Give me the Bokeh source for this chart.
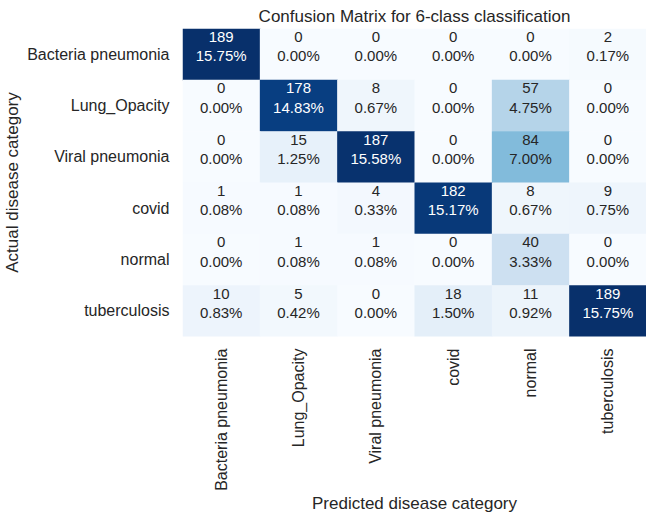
import math
from bokeh.plotting import figure
from bokeh.models import ColumnDataSource, LinearColorMapper, FactorRange
from bokeh.palettes import Blues256
from bokeh.transform import transform
from bokeh.core.properties import value
from bokeh.embed import file_html
from bokeh.resources import INLINE

classes = ["Bacteria pneumonia", "Lung_Opacity", "Viral pneumonia", "covid", "normal", "tuberculosis"]
# rows = actual, columns = predicted
row_bacteria = [189, 0, 0, 0, 0, 2]
row_lung = [0, 178, 8, 0, 57, 0]
row_viral = [0, 15, 187, 0, 84, 0]
row_covid = [1, 1, 4, 182, 8, 9]
row_normal = [0, 1, 1, 0, 40, 0]
row_tb = [10, 5, 0, 18, 11, 189]
matrix = [row_bacteria, row_lung, row_viral, row_covid, row_normal, row_tb]
total = sum(sum(r) for r in matrix)

xs, ys, vals, labels, tcolors = [], [], [], [], []
for i, actual in enumerate(classes):
    for j, pred in enumerate(classes):
        v = matrix[i][j]
        xs.append(pred)
        ys.append(actual)
        vals.append(v)
        labels.append(f"{v}\n{v / total * 100:.2f}%")
        tcolors.append("#ffffff" if v > 120 else "#262626")

src = ColumnDataSource(dict(x=xs, y=ys, v=vals, label=labels, tc=tcolors))
mapper = LinearColorMapper(palette=list(reversed(Blues256)), low=0, high=max(vals))

FONT = "Liberation Sans"
p = figure(width=646, height=515, output_backend="svg", toolbar_location=None,
           x_range=FactorRange(*classes), y_range=FactorRange(*reversed(classes)),
           title="Confusion Matrix for 6-class classification",
           min_border_left=177, min_border_right=0, min_border_top=28, min_border_bottom=0)
p.rect(x="x", y="y", width=1, height=1, source=src, fill_color=transform("v", mapper),
       line_color=None, dilate=True)
p.text(x="x", y="y", text="label", source=src, text_color="tc", text_align="center",
       text_baseline="middle", y_offset=-8, text_font=value(FONT), text_font_size="15px",
       text_line_height=1.15)

p.title.align = "center"
p.title.text_font = FONT
p.title.text_font_size = "17px"
p.title.text_font_style = "normal"
p.title.text_color = "#262626"
p.title.standoff = 6

for ax in (p.xaxis, p.yaxis):
    ax.axis_line_color = None
    ax.major_tick_line_color = None
    ax.minor_tick_line_color = None
    ax.major_label_text_font = FONT
    ax.major_label_text_font_size = "16px"
    ax.major_label_text_color = "#262626"
    ax.axis_label_text_font = FONT
    ax.axis_label_text_font_size = "17px"
    ax.axis_label_text_font_style = "normal"
    ax.axis_label_text_color = "#262626"

p.xaxis.axis_label = "Predicted disease category"
p.yaxis.axis_label = "Actual disease category"
p.xaxis.major_label_orientation = math.pi / 2
p.xaxis.major_label_standoff = 6
p.xaxis.axis_label_standoff = 0
p.yaxis.major_label_standoff = 7
p.yaxis.axis_label_standoff = 2

p.grid.visible = False
p.outline_line_color = None
p.background_fill_color = "white"
p.border_fill_color = "white"

open("out.html", "w").write(file_html(p, INLINE))
